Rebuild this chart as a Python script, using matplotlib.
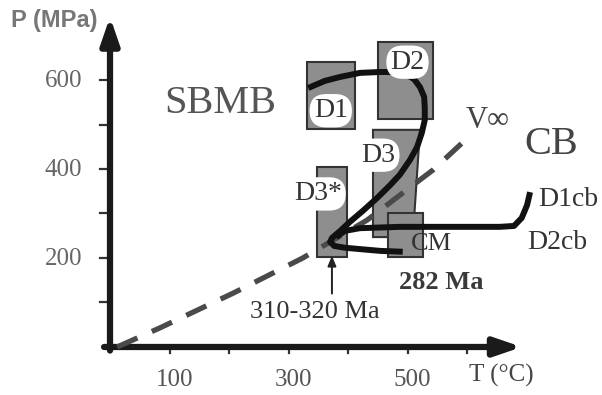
import matplotlib.pyplot as plt
from matplotlib.patches import Rectangle, Polygon

# P-T diagram data (T in degC, P in MPa)
t_ticks = [100, 200, 300, 400, 500, 600]
t_labels = [100, 300, 500]
p_ticks = [100, 200, 300, 400, 500, 600]
p_labels = [200, 400, 600]

# rectangular fields: name, Tmin, Tmax, Pmin, Pmax
box_names = ['D1', 'D2', 'D3*', 'CM']
box_tmin = [331, 450, 348, 467]
box_tmax = [412, 543, 398, 526]
box_pmin = [490, 512, 202, 202]
box_pmax = [640, 685, 404, 301]

# D3 field (polygon)
d3_T = [442, 521, 509, 442]
d3_P = [488, 488, 247, 247]

# SBMB P-T path
sbmb_T = [333, 361, 387, 420, 454, 479, 496, 511, 521, 528, 529, 529, 524, 516,
          504, 487, 471, 449, 425, 403, 387, 373, 370, 377, 395, 420, 454, 492]
sbmb_P = [582, 598, 607, 616, 618, 618, 614, 602, 584, 562, 537, 510, 481, 449,
          420, 387, 364, 335, 306, 281, 261, 245, 236, 227, 223, 220, 216, 214]

# CB P-T path
cb_T = [706, 701, 692, 679, 655, 571, 487, 420, 395, 380]
cb_P = [348, 319, 290, 272, 270, 270, 270, 267, 261, 247]

# geotherm (V infinity)
geo_T = [12, 84, 207, 324, 432, 543, 610]
geo_P = [0, 43, 121, 200, 285, 398, 481]

serif = 'Liberation Serif'
dark = '#1a1a1a'
gray_fill = '#8e8e8e'

fig = plt.figure(figsize=(6.02, 3.95), dpi=100)
ax = fig.add_axes([0, 0, 1, 1])
ax.set_xlim(-184.9, 826.9)
ax.set_ylim(-107.9, 779.8)
ax.axis('off')

# axes with arrows
ax.annotate('', xy=(0, 742), xytext=(0, -8),
            arrowprops=dict(arrowstyle='-|>,head_length=1.6,head_width=0.55',
                            lw=4.5, color=dark, shrinkA=0, shrinkB=0))
ax.annotate('', xy=(692, 0), xytext=(-10, 0),
            arrowprops=dict(arrowstyle='-|>,head_length=1.6,head_width=0.55',
                            lw=4.5, color=dark, shrinkA=0, shrinkB=0))
for t in t_ticks:
    ax.plot([t, t], [0, -14], color='#333333', lw=1.6)
for p in p_ticks:
    ax.plot([0, -17], [p, p], color='#333333', lw=1.6)
for t in t_labels:
    ax.text(t + 8, -75, str(t), fontsize=18, family=serif, color='#555555',
            ha='center', va='center')
for p in p_labels:
    ax.text(-78, p - 2, str(p), fontsize=18, family=serif, color='#666666',
            ha='center', va='center')
ax.text(-93, 734, 'P (MPa)', fontsize=17, family='Liberation Sans',
        fontweight='bold', color='#777777', ha='center', va='center')
ax.text(658, -65, 'T (°C)', fontsize=18, family=serif, color='#444444',
        ha='center', va='center')

# fields
ax.add_patch(Polygon(list(zip(d3_T, d3_P)), closed=True, fc=gray_fill,
                     ec='#333333', lw=1.5, zorder=2))
for n, t0, t1, p0, p1 in zip(box_names, box_tmin, box_tmax, box_pmin, box_pmax):
    ax.add_patch(Rectangle((t0, p0), t1 - t0, p1 - p0, fc=gray_fill,
                           ec='#333333', lw=1.5, zorder=3))

# geotherm
geo, = ax.plot(geo_T, geo_P, color='#4a4a4a', lw=3.8, zorder=4,
               solid_capstyle='butt')
geo.set_dashes([4.2, 3.0])

# paths
ax.plot(sbmb_T, sbmb_P, color='#111111', lw=4.3, zorder=5,
        solid_joinstyle='round', solid_capstyle='butt')
ax.plot(cb_T, cb_P, color='#111111', lw=4.3, zorder=5,
        solid_joinstyle='round', solid_capstyle='butt')

# labels
halo = dict(boxstyle='round,pad=0.15,rounding_size=0.6', fc='white', ec='none')
ax.text(371, 531, 'D1', fontsize=20, family=serif, color='#333333',
        ha='center', va='center', bbox=halo, zorder=6)
ax.text(500, 640, 'D2', fontsize=20, family=serif, color='#333333',
        ha='center', va='center', bbox=halo, zorder=6)
ax.text(451, 431, 'D3', fontsize=20, family=serif, color='#333333',
        ha='center', va='center', bbox=halo, zorder=4)
ax.text(349, 344, 'D3*', fontsize=20, family=serif, color='#333333',
        ha='center', va='center', bbox=halo, zorder=4)
ax.text(541, 231, 'CM', fontsize=19, family=serif, color='#333333',
        ha='center', va='center', zorder=6)
ax.text(556, 145, '282 Ma', fontsize=19, family=serif, color='#3a3a3a',
        fontweight='bold', ha='center', va='center')
ax.text(345, 78, '310-320 Ma', fontsize=19, family=serif, color='#333333',
        ha='center', va='center')
ax.annotate('', xy=(373, 205), xytext=(373, 120),
            arrowprops=dict(arrowstyle='-|>,head_length=0.6,head_width=0.25',
                            lw=1.4, color='#222222', shrinkA=0, shrinkB=0))
ax.text(185, 548, 'SBMB', fontsize=29, family=serif, color='#555555',
        ha='center', va='center')
ax.text(741, 454, 'CB', fontsize=29, family=serif, color='#444444',
        ha='center', va='center')
ax.text(634, 510, 'V∞', fontsize=22, family=serif, color='#444444',
        ha='center', va='center')
ax.text(770, 331, 'D1cb', fontsize=20, family=serif, color='#333333',
        ha='center', va='center')
ax.text(752, 234, 'D2cb', fontsize=20, family=serif, color='#333333',
        ha='center', va='center')

fig.savefig('out.png', dpi=100)
